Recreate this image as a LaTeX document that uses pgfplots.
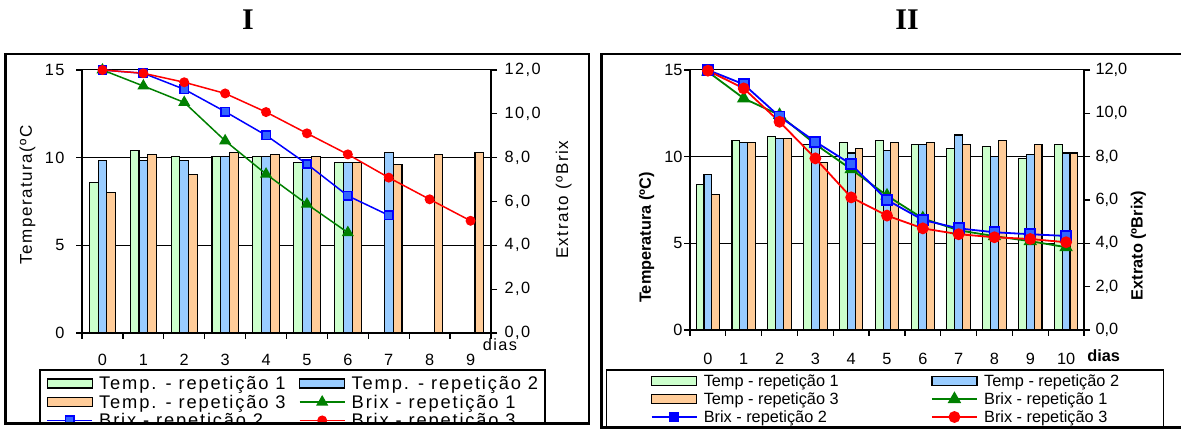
\documentclass[border=0pt]{standalone}
\usepackage{fontspec}
\setmainfont{Liberation Sans}
\newfontfamily\spaced{Liberation Sans}[LetterSpace=9]
\newfontfamily\spacedleg{Liberation Sans}[LetterSpace=10]
\newfontfamily\titleserif{Liberation Serif}
\usepackage{pgfplots}
\pgfplotsset{compat=1.18}

\definecolor{tempA}{HTML}{CCFFCC}
\definecolor{tempB}{HTML}{99CCFF}
\definecolor{tempC}{HTML}{FFCC99}
\definecolor{brixA}{HTML}{008000}
\definecolor{brixB}{HTML}{0000FF}
\definecolor{brixC}{HTML}{FF0000}
\definecolor{brixBfill}{HTML}{3366FF}

\pgfplotsset{
  barleg/.style={legend image code/.code={\draw[##1, draw=black, line width=1.3pt] (0pt,-4.5pt) rectangle (45pt,4.5pt);}},
  lineleg/.style={legend image code/.code={\draw[##1, sharp plot, mark repeat=2, mark phase=2] plot coordinates {(0pt,0pt) (22.5pt,0pt) (45pt,0pt)};}},
  common/.style={
    anchor=south west, scale only axis,
    axis line style={-, line width=1.3pt, black},
    tick align=outside,
    major tick length=6pt, minor tick length=6pt,
    every tick/.style={black, line width=1.3pt},
  },
}

\begin{document}
\begin{tikzpicture}
\path[use as bounding box] (0pt,0pt) rectangle (1181pt,430pt);
\fill[white] (0pt,0pt) rectangle (1181pt,430pt);

% ---------------- Panel I ----------------
\begin{scope}
\clip (0pt,6.5pt) rectangle (595pt,430pt);
\begin{axis}[common,
  at={(82pt,97pt)}, width=409pt, height=263pt,
  xmin=-0.5, xmax=9.5, ymin=0, ymax=15,
  axis x line*=bottom, axis y line*=left,
  xtick={0,...,9}, xticklabels={0,1,2,3,4,5,6,7,8,9},
  major x tick style={draw=none},
  minor xtick={-0.5,0.5,...,9.5},
  ytick={0,5,10,15}, yticklabels={0,5,10,15},
  ymajorgrids, grid style={black, line width=1pt},
  tick label style={font=\spaced\fontsize{16.3}{18}\selectfont},
  xticklabel style={yshift=-12pt},
  yticklabel style={xshift=-8pt},
  ylabel={Temperatura(ºC},
  ylabel style={at={(axis description cs:-0.133,0.525)}, anchor=center, font=\spaced\fontsize{17}{18}\selectfont},
  xlabel={dias},
  xlabel style={at={(axis description cs:1.022,-0.046)}, anchor=center, font=\spaced\fontsize{16.3}{18}\selectfont},
  legend columns=2,
  legend style={at={(axis description cs:-0.1044,-0.138)}, anchor=north west,
    draw=black, line width=1.3pt, font=\spacedleg\fontsize{18.3}{20}\selectfont,
    cells={anchor=west}, nodes={inner sep=0.3pt, text height=15pt, text depth=2.8pt},
    inner xsep=6.5pt, inner ysep=4.5pt, row sep=0pt,
    /tikz/every odd column/.append style={column sep=6pt},
    /tikz/every even column/.append style={column sep=13pt}},
]
\addplot[ybar, bar width=8.8pt, bar shift=-8.8pt, fill=tempA, draw=black, line width=1.1pt, barleg]
  coordinates {(0,8.57) (1,10.40) (2,10.06) (3,10.06) (4,10.06) (5,9.71) (6,9.71)};
\addlegendentry{Temp. - repetição 1}
\addplot[ybar, bar width=8.8pt, bar shift=0pt, fill=tempB, draw=black, line width=1.1pt, barleg]
  coordinates {(0,9.83) (1,9.85) (2,9.85) (3,10.06) (4,10.06) (5,9.71) (6,9.71) (7,10.29)};
\addlegendentry{Temp. - repetição 2}
\addplot[ybar, bar width=8.8pt, bar shift=8.8pt, fill=tempC, draw=black, line width=1.1pt, barleg]
  coordinates {(0,8.00) (1,10.17) (2,9.03) (3,10.29) (4,10.17) (5,10.06) (6,9.71) (7,9.60) (8,10.17) (9,10.29)};
\addlegendentry{Temp. - repetição 3}
\addlegendimage{color=brixA, line width=1.5pt, mark=triangle*, mark size=5.5pt, mark options={fill=brixA}, lineleg}
\addlegendentry{Brix - repetição 1}
\addlegendimage{color=brixB, line width=1.5pt, mark=square*, mark size=4.2pt, mark options={fill=brixBfill, draw=brixB}, lineleg}
\addlegendentry{Brix - repetição 2}
\addlegendimage{color=brixC, line width=1.5pt, mark=*, mark size=4.2pt, mark options={fill=brixC}, lineleg}
\addlegendentry{Brix - repetição 3}
\end{axis}

\begin{axis}[common,
  at={(82pt,97pt)}, width=409pt, height=263pt,
  xmin=-0.5, xmax=9.5, ymin=0, ymax=12, clip=false,
  axis x line=none, axis y line*=right,
  ytick={0,2,...,12},
  yticklabels={{0,0},{2,0},{4,0},{6,0},{8,0},{10,0},{12,0}},
  tick label style={font=\spaced\fontsize{16.3}{18}\selectfont},
  yticklabel style={xshift=4pt},
  ylabel={Extrato (ºBrix},
  ylabel style={at={(axis description cs:1.178,0.506)}, anchor=center, font=\spaced\fontsize{17}{18}\selectfont},
]
\addplot[color=brixA, line width=1.5pt, mark=triangle*, mark size=5.5pt, mark options={fill=brixA}]
  coordinates {(0,12.0) (1,11.27) (2,10.52) (3,8.77) (4,7.25) (5,5.88) (6,4.58)};
\addplot[color=brixB, line width=1.5pt, mark=square*, mark size=4.2pt, mark options={fill=brixBfill, draw=brixB}]
  coordinates {(0,12.0) (1,11.85) (2,11.12) (3,10.10) (4,9.02) (5,7.71) (6,6.26) (7,5.37)};
\addplot[color=brixC, line width=1.5pt, mark=*, mark size=4.2pt, mark options={fill=brixC}]
  coordinates {(0,12.0) (1,11.85) (2,11.44) (3,10.93) (4,10.08) (5,9.11) (6,8.15) (7,7.09) (8,6.10) (9,5.12)};
\end{axis}
\end{scope}

% ---------------- Panel II ----------------
\begin{scope}
\clip (603pt,3pt) rectangle (1181pt,430pt);
\begin{axis}[common,
  at={(690pt,100pt)}, width=394pt, height=260pt,
  xmin=-0.5, xmax=10.5, ymin=0, ymax=15,
  axis x line*=bottom, axis y line*=left,
  xtick={0,...,10}, xticklabels={0,1,2,3,4,5,6,7,8,9,10},
  major x tick style={draw=none},
  minor xtick={-0.5,0.5,...,10.5},
  ytick={0,5,10,15}, yticklabels={0,5,10,15},
  ymajorgrids, grid style={black, line width=1pt},
  tick label style={font=\fontsize{16.3}{18}\selectfont},
  xticklabel style={yshift=-14pt},
  yticklabel style={xshift=2pt},
  ylabel={Temperatura (ºC)},
  ylabel style={at={(axis description cs:-0.110,0.356)}, anchor=center, font=\bfseries\fontsize{16.3}{18}\selectfont},
  xlabel={dias},
  xlabel style={at={(axis description cs:1.05,-0.1)}, anchor=center, font=\bfseries\fontsize{16.3}{18}\selectfont},
  legend columns=2,
  legend style={at={(axis description cs:-0.2132,-0.1512)}, anchor=north west,
    draw=black, line width=1.3pt, font=\fontsize{16.3}{18}\selectfont,
    cells={anchor=west}, nodes={inner sep=0.3pt, text height=14pt, text depth=3.3pt},
    inner xsep=44pt, inner ysep=2.3pt, row sep=0pt,
    /tikz/every odd column/.append style={column sep=6pt},
    /tikz/every even column/.append style={column sep=92pt}},
]
\addplot[ybar, bar width=7.8pt, bar shift=-7.8pt, fill=tempA, draw=black, line width=1.1pt, barleg]
  coordinates {(0,8.41) (1,10.94) (2,11.15) (3,10.71) (4,10.81) (5,10.94) (6,10.71) (7,10.46) (8,10.58) (9,9.88) (10,10.69)};
\addlegendentry{Temp - repetição 1}
\addplot[ybar, bar width=7.8pt, bar shift=0pt, fill=tempB, draw=black, line width=1.1pt, barleg]
  coordinates {(0,8.98) (1,10.81) (2,11.04) (3,10.70) (4,10.21) (5,10.35) (6,10.71) (7,11.25) (8,10.00) (9,10.13) (10,10.21)};
\addlegendentry{Temp - repetição 2}
\addplot[ybar, bar width=7.8pt, bar shift=7.8pt, fill=tempC, draw=black, line width=1.1pt, barleg]
  coordinates {(0,7.83) (1,10.81) (2,11.04) (3,9.68) (4,10.46) (5,10.81) (6,10.81) (7,10.69) (8,10.94) (9,10.69) (10,10.21)};
\addlegendentry{Temp - repetição 3}
\addlegendimage{color=brixA, line width=1.8pt, mark=triangle*, mark size=6pt, mark options={fill=brixA}, lineleg}
\addlegendentry{Brix - repetição 1}
\addlegendimage{color=brixB, line width=1.8pt, mark=square*, mark size=4.5pt, mark options={fill=brixB, draw=brixB}, lineleg}
\addlegendentry{Brix - repetição 2}
\addlegendimage{color=brixC, line width=1.8pt, mark=*, mark size=5pt, mark options={fill=brixC}, lineleg}
\addlegendentry{Brix - repetição 3}
\end{axis}

\begin{axis}[common,
  at={(690pt,100pt)}, width=394pt, height=260pt,
  xmin=-0.5, xmax=10.5, ymin=0, ymax=12, clip=false,
  axis x line=none, axis y line*=right,
  ytick={0,2,...,12},
  yticklabels={{0,0},{2,0},{4,0},{6,0},{8,0},{10,0},{12,0}},
  tick label style={font=\fontsize{16.3}{18}\selectfont},
  yticklabel style={xshift=2pt},
  ylabel={Extrato (ºBrix)},
  ylabel style={at={(axis description cs:1.138,0.325)}, anchor=center, font=\bfseries\fontsize{16.3}{18}\selectfont},
]
\addplot[color=brixA, line width=1.8pt, mark=triangle*, mark size=6pt, mark options={fill=brixA}]
  coordinates {(0,11.92) (1,10.69) (2,9.92) (3,8.57) (4,7.42) (5,6.20) (6,5.15) (7,4.60) (8,4.33) (9,4.10) (10,3.82)};
\addplot[color=brixB, line width=1.8pt, mark=square*, mark size=5pt, mark options={fill=brixBfill, draw=brixB}]
  coordinates {(0,12.0) (1,11.34) (2,9.85) (3,8.69) (4,7.65) (5,6.00) (6,5.08) (7,4.69) (8,4.51) (9,4.42) (10,4.34)};
\addplot[color=brixC, line width=1.8pt, mark=*, mark size=5pt, mark options={fill=brixC}]
  coordinates {(0,11.97) (1,11.15) (2,9.61) (3,7.92) (4,6.12) (5,5.28) (6,4.69) (7,4.42) (8,4.28) (9,4.20) (10,4.05)};
\end{axis}
\end{scope}

% chart frames and titles
\draw[line width=2.5pt] (5.3pt,6.7pt) rectangle (589pt,376pt);
\draw[line width=2.5pt] (601.5pt,2.5pt) rectangle (1184pt,376pt);
\node[font=\titleserif\bfseries\fontsize{30}{30}\selectfont] at (248pt,410pt) {I};
\node[font=\titleserif\bfseries\fontsize{30}{30}\selectfont] at (907pt,410pt) {II};
\end{tikzpicture}
\end{document}
